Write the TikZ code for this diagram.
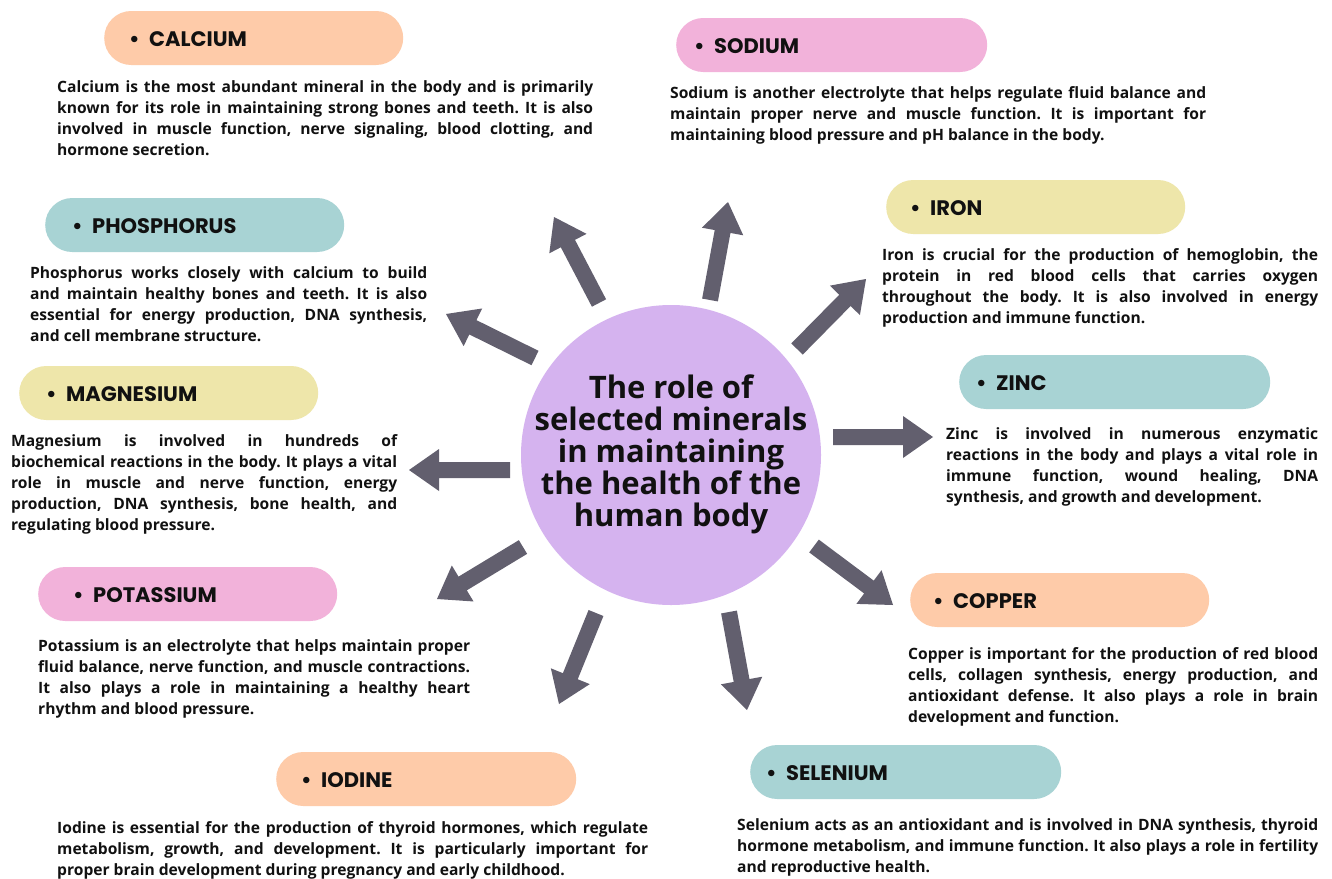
\documentclass[tikz,border=0pt]{standalone}
\usepackage{fontspec}
\setmainfont{Open Sans}
\newfontfamily\headfont{Poppins}
\usetikzlibrary{calc}
\frenchspacing
\definecolor{peach}{HTML}{FECBA9}
\definecolor{pinkc}{HTML}{F2B2DA}
\definecolor{yell}{HTML}{EEE6AA}
\definecolor{teal}{HTML}{A8D3D4}
\definecolor{arrowc}{HTML}{625F6E}
\definecolor{circc}{HTML}{D5B3EF}
\definecolor{ink}{HTML}{111111}
\tolerance=10000
\hyphenpenalty=10000
\tikzset{
  pill/.style={rounded corners=27pt, minimum height=54pt, inner sep=0pt, anchor=west},
  headtxt/.style={font=\headfont\bfseries\fontsize{21}{24}\selectfont, text=ink, inner sep=0pt, anchor=west},
  body/.style={font=\bfseries\fontsize{15.6}{21}\selectfont,
    text=ink, inner sep=0pt, anchor=north west, align=justify},
}
\newcommand\blockarrow[2]{%
  \coordinate (h) at ($(#2)!30pt!(#1)$);
  \fill[arrowc] ($(#1)!8pt!90:(#2)$) -- ($(h)!8pt!90:(#2)$) -- ($(h)!21pt!90:(#2)$) -- (#2)
    -- ($(h)!21pt!-90:(#2)$) -- ($(h)!8pt!-90:(#2)$) -- ($(#1)!8pt!-90:(#2)$) -- cycle;
}
\newcommand\mineral[7]{% name, pill left, pill cy, pill width, colour, text x, label
  \node[pill, fill=#5, minimum width=#4pt] (#1pill) at (#2,#3) {};
  \node[headtxt] (#1head) at (#6-20,#3+1) {\makebox[20pt][l]{•}#7};
}
\begin{document}
\begin{tikzpicture}[x=1pt,y=-1pt]
\useasboundingbox[fill=white] (0,0) rectangle (1332,878);

% centre
\node[circle, fill=circc, minimum size=300pt, inner sep=0pt] (c) at (671,455) {};
\node[font=\bfseries\fontsize{31}{32}\selectfont, align=center, text=ink, inner sep=0pt] (title) at (671,454)
  {The role of\\selected minerals\\in maintaining\\the health of the\\human body};

% pills
\mineral{ca}{104}{38}{299}{peach}{149}{CALCIUM}
\mineral{na}{676}{45}{311}{pinkc}{714}{SODIUM}
\mineral{fe}{886}{207}{299}{yell}{930}{IRON}
\mineral{zn}{959}{382}{311}{teal}{996}{ZINC}
\mineral{cu}{910}{600}{299}{peach}{953}{COPPER}
\mineral{se}{750}{772}{311}{teal}{786}{SELENIUM}
\mineral{io}{276}{779}{300}{peach}{321}{IODINE}
\mineral{k}{38}{594}{299}{pinkc}{93}{POTASSIUM}
\mineral{mg}{19}{393}{299}{yell}{66}{MAGNESIUM}
\mineral{p}{45}{225}{299}{teal}{92}{PHOSPHORUS}

% body texts
\node[body, text width=536pt] (catxt) at (57,80) {Calcium is the most abundant mineral in the body and is primarily\linebreak known for its role in maintaining strong bones and teeth. It is also\linebreak involved in muscle function, nerve signaling, blood clotting, and\linebreak hormone secretion.};
\node[body, text width=536pt] (natxt) at (670,86) {Sodium is another electrolyte that helps regulate fluid balance and\linebreak maintain proper nerve and muscle function. It is important for\linebreak maintaining blood pressure and pH balance in the body.};
\node[body, text width=436pt] (fetxt) at (882,248) {Iron is crucial for the production of hemoglobin, the\linebreak protein in red blood cells that carries oxygen\linebreak throughout the body. It is also involved in energy\linebreak production and immune function.};
\node[body, text width=372pt] (zntxt) at (946,427) {Zinc is involved in numerous enzymatic\linebreak reactions in the body and plays a vital role in\linebreak immune function, wound healing, DNA\linebreak synthesis, and growth and development.};
\node[body, text width=410pt] (cutxt) at (908,647) {Copper is important for the production of red blood\linebreak cells, collagen synthesis, energy production, and\linebreak antioxidant defense. It also plays a role in brain\linebreak development and function.};
\node[body, text width=581pt] (setxt) at (737,818) {Selenium acts as an antioxidant and is involved in DNA synthesis, thyroid\linebreak hormone metabolism, and immune function. It also plays a role in fertility\linebreak and reproductive health.};
\node[body, text width=591pt] (iotxt) at (57,821) {Iodine is essential for the production of thyroid hormones, which regulate\linebreak metabolism, growth, and development. It is particularly important for\linebreak proper brain development during pregnancy and early childhood.};
\node[body, text width=432pt] (ktxt) at (38,639) {Potassium is an electrolyte that helps maintain proper\linebreak fluid balance, nerve function, and muscle contractions.\linebreak It also plays a role in maintaining a healthy heart\linebreak rhythm and blood pressure.};
\node[body, text width=386pt] (mgtxt) at (11,434) {Magnesium is involved in hundreds of\linebreak biochemical reactions in the body. It plays a vital\linebreak role in muscle and nerve function, energy\linebreak production, DNA synthesis, bone health, and\linebreak regulating blood pressure.};
\node[body, text width=397pt] (ptxt) at (30,266) {Phosphorus works closely with calcium to build\linebreak and maintain healthy bones and teeth. It is also\linebreak essential for energy production, DNA synthesis,\linebreak and cell membrane structure.};

% arrows
\coordinate (t1) at (599,303); \coordinate (e1) at (554,217);
\coordinate (t2) at (710,300); \coordinate (e2) at (728,202);
\coordinate (t3) at (797,349); \coordinate (e3) at (866,279);
\coordinate (t4) at (535,358); \coordinate (e4) at (446,314);
\coordinate (t5) at (510,470); \coordinate (e5) at (409,470);
\coordinate (t6) at (833,437); \coordinate (e6) at (933,437);
\coordinate (t7) at (523,547); \coordinate (e7) at (437,599);
\coordinate (t8) at (596,613); \coordinate (e8) at (559,704);
\coordinate (t9) at (729,612); \coordinate (e9) at (747,710);
\coordinate (t10) at (814,546); \coordinate (e10) at (893,605);
\foreach \i in {1,...,10} {\blockarrow{t\i}{e\i}}
\end{tikzpicture}
\end{document}
